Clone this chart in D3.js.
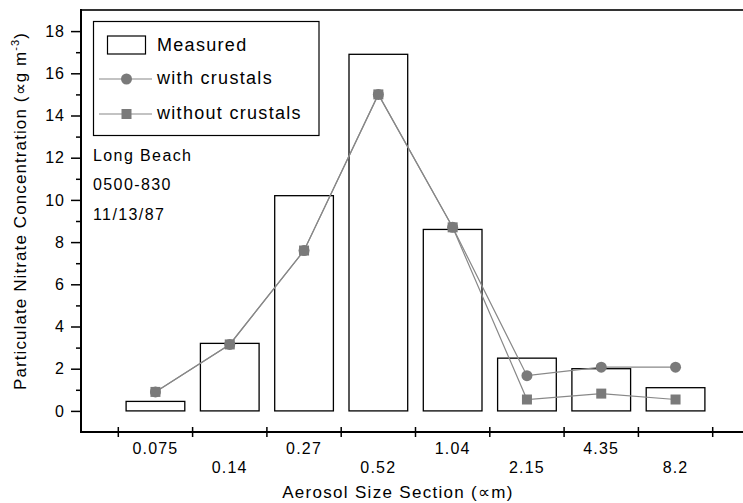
<!DOCTYPE html>
<html>
<head>
<meta charset="utf-8">
<script src="https://cdn.jsdelivr.net/npm/d3@7"></script>
<style>
  body { margin: 0; background: #fff; }
  svg { display: block; font-family: 'Liberation Sans', Arial, sans-serif; }
</style>
</head>
<body>
<script>
// values
const sections = ['0.075', '0.14', '0.27', '0.52', '1.04', '2.15', '4.35', '8.2']
const measured = [0.45, 3.2, 10.2, 16.9, 8.6, 2.5, 2.0, 1.1]
const withCrustals = [0.9, 3.15, 7.6, 15.0, 8.7, 1.67, 2.07, 2.07]
const withoutCrustals = [0.9, 3.15, 7.6, 15.0, 8.7, 0.54, 0.82, 0.54]
const yMajor = [0, 2, 4, 6, 8, 10, 12, 14, 16, 18]
const yMinor = [1, 3, 5, 7, 9, 11, 13, 15, 17]
const notes = ['Long Beach', '0500-830', '11/13/87']

const width = 743
const height = 503
const plot = { left: 81, right: 743, top: 10, bottom: 432 }
const markColor = '#7a7a7a'
const lineColor = '#888'

const svg = d3.select('body').append('svg')
  .attr('width', width)
  .attr('height', height)

const y = d3.scaleLinear().domain([-1, 19]).range([plot.bottom, plot.top])
const x = d3.scaleBand()
  .domain(sections)
  .range([118.3, 712.7])
  .paddingInner(0.21)
  .paddingOuter(0.105)
const cx = d => x(d) + x.bandwidth() / 2

// bars
svg.append('g').selectAll('rect')
  .data(sections)
  .join('rect')
  .attr('x', d => x(d))
  .attr('y', (d, i) => y(measured[i]))
  .attr('width', x.bandwidth())
  .attr('height', (d, i) => y(0) - y(measured[i]))
  .attr('fill', 'none')
  .attr('stroke', '#000')
  .attr('stroke-width', 1.3)

// series lines + markers
const line = d3.line().x(d => d[0]).y(d => d[1])
const series = [
  { values: withCrustals, shape: 'circle' },
  { values: withoutCrustals, shape: 'square' }
]
series.forEach(s => {
  const pts = sections.map((c, i) => [cx(c), y(s.values[i])])
  svg.append('path')
    .attr('d', line(pts))
    .attr('fill', 'none')
    .attr('stroke', lineColor)
    .attr('stroke-width', 1.2)
})
series.forEach(s => {
  const g = svg.append('g').attr('fill', markColor)
  const pts = sections.map((c, i) => [cx(c), y(s.values[i])])
  if (s.shape === 'circle') {
    g.selectAll('circle').data(pts).join('circle')
      .attr('cx', d => d[0]).attr('cy', d => d[1]).attr('r', 5.5)
  } else {
    g.selectAll('rect').data(pts).join('rect')
      .attr('x', d => d[0] - 5).attr('y', d => d[1] - 5)
      .attr('width', 10).attr('height', 10)
  }
})

// frame: top line, left axis, bottom axis
svg.append('line')
  .attr('x1', plot.left).attr('x2', plot.right).attr('y1', plot.top).attr('y2', plot.top)
  .attr('stroke', '#333').attr('stroke-width', 2)

const yAxis = svg.append('g')
  .attr('transform', `translate(${plot.left},0)`)
  .call(d3.axisLeft(y).tickValues(yMajor).tickSize(10).tickPadding(6).tickSizeOuter(0))
yAxis.select('.domain').remove()
yAxis.selectAll('.tick line').attr('stroke', '#000').attr('stroke-width', 1.5)
yAxis.selectAll('.tick text')
  .attr('font-size', 16)
  .attr('letter-spacing', 1)
  .attr('fill', '#000')
  .attr('font-family', "'Liberation Sans', Arial, sans-serif")

const yMinorAxis = svg.append('g')
  .attr('transform', `translate(${plot.left},0)`)
  .call(d3.axisLeft(y).tickValues(yMinor).tickSize(5).tickFormat(''))
yMinorAxis.select('.domain').remove()
yMinorAxis.selectAll('.tick line').attr('stroke', '#000').attr('stroke-width', 1.5)

svg.append('line')
  .attr('x1', plot.left).attr('x2', plot.left).attr('y1', plot.top - 1).attr('y2', plot.bottom + 1)
  .attr('stroke', '#000').attr('stroke-width', 2)
svg.append('line')
  .attr('x1', plot.left).attr('x2', plot.right).attr('y1', plot.bottom).attr('y2', plot.bottom)
  .attr('stroke', '#000').attr('stroke-width', 2)

// x ticks at section boundaries
const gap = x.step() - x.bandwidth()
const bounds = sections.map(c => x(c) - gap / 2)
bounds.push(x(sections[sections.length - 1]) + x.bandwidth() + gap / 2)
svg.append('g').selectAll('line')
  .data(bounds)
  .join('line')
  .attr('x1', d => d).attr('x2', d => d)
  .attr('y1', plot.bottom - 5).attr('y2', plot.bottom + 5)
  .attr('stroke', '#000').attr('stroke-width', 1.5)

svg.append('g').selectAll('text')
  .data(sections)
  .join('text')
  .attr('x', d => cx(d))
  .attr('y', (d, i) => i % 2 === 0 ? 454 : 473)
  .attr('text-anchor', 'middle')
  .attr('font-size', 16)
  .attr('letter-spacing', 1.2)
  .text(d => d)

// axis titles
svg.append('text')
  .attr('x', 398)
  .attr('y', 498)
  .attr('text-anchor', 'middle')
  .attr('font-size', 17)
  .attr('letter-spacing', 1.3)
  .text('Aerosol Size Section (∝m)')

const yTitle = svg.append('text')
  .attr('transform', 'translate(26,211) rotate(-90)')
  .attr('text-anchor', 'middle')
  .attr('font-size', 17)
  .attr('letter-spacing', 1.1)
yTitle.append('tspan').text('Particulate Nitrate Concentration (∝g m')
yTitle.append('tspan').attr('dy', -7).attr('font-size', 11).text('-3')
yTitle.append('tspan').attr('dy', 7).text(')')

// legend
const legend = svg.append('g')
legend.append('rect')
  .attr('x', 93.5).attr('y', 21.5).attr('width', 225.5).attr('height', 114)
  .attr('fill', '#fff').attr('stroke', '#000').attr('stroke-width', 1.2)
legend.append('rect')
  .attr('x', 107.5).attr('y', 36).attr('width', 38).attr('height', 18)
  .attr('fill', 'none').attr('stroke', '#000').attr('stroke-width', 1.2)

const legendItems = [
  { label: 'Measured', ly: 51 },
  { label: 'with crustals', ly: 84, shape: 'circle', my: 79 },
  { label: 'without crustals', ly: 119, shape: 'square', my: 114 }
]
legendItems.forEach(item => {
  legend.append('text')
    .attr('x', 157).attr('y', item.ly)
    .attr('font-size', 18).attr('letter-spacing', 1.3)
    .text(item.label)
  if (!item.shape) return
  legend.append('line')
    .attr('x1', 99).attr('x2', 152).attr('y1', item.my).attr('y2', item.my)
    .attr('stroke', lineColor).attr('stroke-width', 1.2)
  if (item.shape === 'circle') {
    legend.append('circle').attr('cx', 126.5).attr('cy', item.my).attr('r', 5.5).attr('fill', markColor)
  } else {
    legend.append('rect').attr('x', 121.5).attr('y', item.my - 5).attr('width', 10).attr('height', 10).attr('fill', markColor)
  }
})

// site notes
svg.append('g').selectAll('text')
  .data(notes)
  .join('text')
  .attr('x', 93)
  .attr('y', (d, i) => 161 + i * 29.3)
  .attr('font-size', 16)
  .attr('letter-spacing', 1.4)
  .text(d => d)
</script>
</body>
</html>
